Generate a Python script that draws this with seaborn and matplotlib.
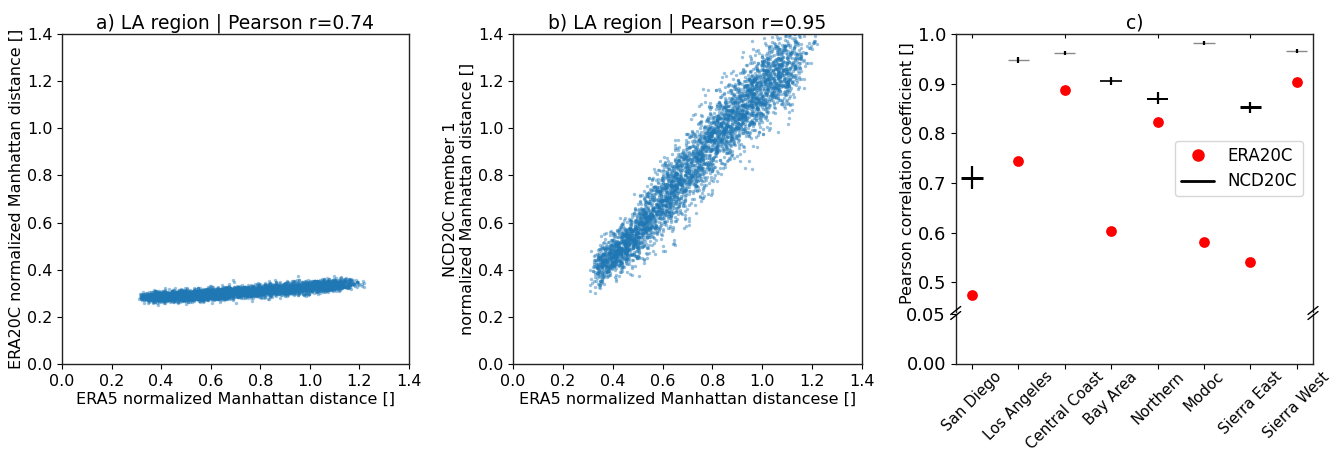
import numpy as np
import pandas as pd
import matplotlib
matplotlib.use("Agg")
import matplotlib.pyplot as plt
from matplotlib.lines import Line2D
import seaborn as sns

# ---------------- data ----------------
# Panel a / b: point clouds (thousands of points, not individually readable).
# Cloud shape: centre line and spread at knots of x.
cloud_x_knots = [0.31, 0.36, 0.45, 0.60, 0.80, 1.00, 1.12, 1.18, 1.24]
cloud_x_weight = [0.1, 0.8, 1.0, 1.0, 1.0, 1.0, 0.7, 0.12, 0.0]
a_center = [0.282, 0.285, 0.289, 0.297, 0.312, 0.328, 0.338, 0.343, 0.350]
a_spread = [0.009, 0.011, 0.012, 0.013, 0.013, 0.013, 0.012, 0.011, 0.008]
b_center = [0.40, 0.43, 0.50, 0.69, 0.95, 1.17, 1.28, 1.34, 1.40]
b_spread = [0.035, 0.045, 0.055, 0.075, 0.085, 0.085, 0.08, 0.07, 0.06]
n_points = 4200
title_a = "a) LA region | Pearson r=0.74"
title_b = "b) LA region | Pearson r=0.95"

# Panel c
regions = ["San Diego", "Los Angeles", "Central Coast", "Bay Area",
           "Northern", "Modoc", "Sierra East", "Sierra West"]
era20c_r = [0.475, 0.745, 0.888, 0.603, 0.823, 0.582, 0.540, 0.904]
ncd20c_mid = [0.709, 0.948, 0.962, 0.906, 0.869, 0.981, 0.852, 0.966]
ncd20c_lo = [0.687, 0.941, 0.957, 0.898, 0.860, 0.977, 0.841, 0.961]
ncd20c_hi = [0.735, 0.954, 0.966, 0.914, 0.883, 0.985, 0.864, 0.970]
ncd20c_box = [0.006, 0.001, 0.001, 0.0034, 0.004, 0.001, 0.006, 0.001]

# ---------------- build clouds ----------------
rng = np.random.default_rng(7)
kx = np.array(cloud_x_knots)
w = np.array(cloud_x_weight)
grid = np.linspace(kx[0], kx[-1], 400)
pdf = np.interp(grid, kx, w)
cdf = np.cumsum(pdf); cdf /= cdf[-1]
xs = np.interp(rng.random(n_points), cdf, grid)
ya = np.interp(xs, kx, a_center) + rng.normal(0, 1, n_points) * np.interp(xs, kx, a_spread)
xs_b = np.interp(rng.random(n_points), cdf, grid)
yb = np.interp(xs_b, kx, b_center) + rng.normal(0, 1, n_points) * np.interp(xs_b, kx, b_spread)
df_a = pd.DataFrame({"x": xs, "y": ya})
df_b = pd.DataFrame({"x": xs_b, "y": yb})

# ---------------- style ----------------
sns.set_style("ticks")
plt.rcParams["font.family"] = ["DejaVu Sans"]
FS = 11.5
plt.rcParams.update({"font.size": FS, "xtick.labelsize": FS, "ytick.labelsize": FS,
                     "axes.labelsize": FS, "axes.titlesize": 13.5,
                     "legend.fontsize": 12, "axes.edgecolor": "#222222",
                     "xtick.color": "black", "ytick.color": "black",
                     "text.color": "black", "axes.labelcolor": "black",
                     "axes.linewidth": 1.0})

W, H = 1341, 453
fig = plt.figure(figsize=(W / 100, H / 100), dpi=100)

def fx(px):
    return px / W

def fy(py):
    return (H - py) / H

ax_a = fig.add_axes([fx(62), fy(364), fx(409) - fx(62), fy(34) - fy(364)])
ax_b = fig.add_axes([fx(513), fy(364), fx(862) - fx(513), fy(34) - fy(364)])
ax_cu = fig.add_axes([fx(955.7), fy(312), fx(1313) - fx(955.7), fy(34) - fy(312)])
ax_cl = fig.add_axes([fx(955.7), fy(363.5), fx(1313) - fx(955.7), fy(314) - fy(363.5)])

blue = "#1f77b4"
ticks14 = np.arange(0, 1.41, 0.2)
for ax, df, title, ylab, xlab in [
        (ax_a, df_a, title_a, "ERA20C normalized Manhattan distance []",
         "ERA5 normalized Manhattan distance []"),
        (ax_b, df_b, title_b, "NCD20C member 1\nnormalized Manhattan distance []",
         "ERA5 normalized Manhattan distancese []")]:
    sns.scatterplot(data=df, x="x", y="y", ax=ax, s=6, color=blue, alpha=0.45,
                    linewidth=0, legend=False)
    ax.set_xlim(0, 1.4)
    ax.set_ylim(0, 1.4)
    ax.set_xticks(ticks14)
    ax.set_yticks(ticks14)
    ax.set_xticklabels([f"{t:.1f}" for t in ticks14])
    ax.set_yticklabels([f"{t:.1f}" for t in ticks14])
    ax.set_title(title, pad=4)
    ax.set_xlabel(xlab, labelpad=2)
    ax.set_ylabel(ylab, labelpad=2)

# ---------------- panel c ----------------
xpos = np.arange(len(regions))
df_c = pd.DataFrame({"x": xpos, "r": era20c_r})
sns.scatterplot(data=df_c, x="x", y="r", ax=ax_cu, s=60, color="red",
                linewidth=0, legend=False, zorder=3)
mid = np.array(ncd20c_mid)
box = np.array(ncd20c_box)
px_per_unit = (312 - 34) / (1.0 - 0.44)
for xi, m, b in zip(xpos, mid, box):
    lw = b * px_per_unit * 0.72
    col = "black"
    if lw < 0.9:
        lw, col = 1.0, "#8a8a8a"
    ax_cu.hlines(m, xi - 0.23, xi + 0.23, color=col, lw=lw, zorder=2)
ax_cu.vlines(xpos, ncd20c_lo, ncd20c_hi, color="black", lw=1.6, zorder=2.5)

for ax in (ax_cu, ax_cl):
    ax.set_xlim(-0.35, 7.35)
ax_cu.set_ylim(0.44, 1.0)
ax_cu.set_yticks([0.5, 0.6, 0.7, 0.8, 0.9, 1.0])
ax_cu.set_yticklabels(["0.5", "0.6", "0.7", "0.8", "0.9", "1.0"])
ax_cu.tick_params(axis="y", labelsize=13)
ax_cu.xaxis.tick_top()
ax_cu.set_xticks([0, 2, 4, 6])
ax_cu.set_xticklabels([])
ax_cu.tick_params(axis="x", length=3, direction="in")
ax_cu.spines["bottom"].set_visible(False)
ax_cu.set_xlabel("")
ax_cu.set_ylabel("Pearson correlation coefficient []", labelpad=2)
ax_cu.set_title("c)", pad=4)

ax_cl.set_ylim(0, 0.05)
ax_cl.set_yticks([0.0, 0.05])
ax_cl.set_yticklabels(["0.00", "0.05"])
ax_cl.tick_params(axis="y", labelsize=13)
ax_cl.set_xticks(xpos)
ax_cl.set_xticklabels(regions, rotation=45, ha="center")
ax_cl.tick_params(axis="x", pad=0.5, labelsize=10.8)
ax_cl.spines["top"].set_visible(False)
ax_cl.set_xlabel("")
ax_cl.set_ylabel("")

handles = [Line2D([], [], marker="o", color="red", linestyle="none", markersize=8),
           Line2D([], [], color="black", lw=2)]
ax_cu.legend(handles, ["ERA20C", "NCD20C"], loc="upper right",
             bbox_to_anchor=(0.995, 0.645), frameon=True, handlelength=2.0,
             borderpad=0.35, labelspacing=0.45)

# break marks
for xb in (955.7, 1313):
    for dy in (-2.5, 2.5):
        fig.add_artist(Line2D([fx(xb - 5), fx(xb + 5)],
                              [fy(313 + dy + 4), fy(313 + dy - 4)],
                              color="black", lw=1.0, transform=fig.transFigure))

fig.savefig("out.png", dpi=100)
